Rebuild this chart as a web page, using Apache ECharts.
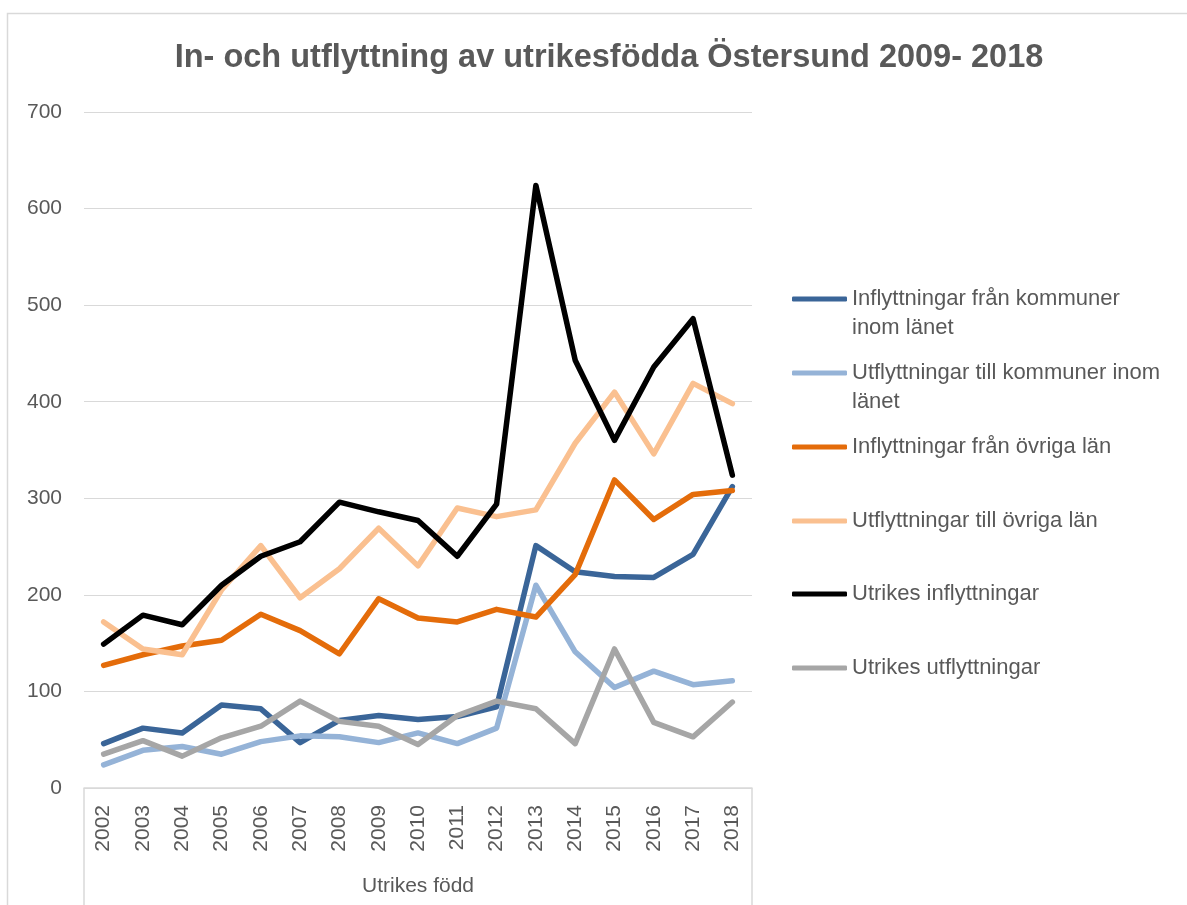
<!DOCTYPE html>
<html>
<head>
<meta charset="utf-8">
<script src="https://cdn.jsdelivr.net/npm/echarts@6/dist/echarts.min.js"></script>
<style>
html,body{margin:0;padding:0;background:#fff;}
#chart{width:1187px;height:905px;}
</style>
</head>
<body>
<div id="chart"></div>
<script>
const titleText = 'In- och utflyttning av utrikesfödda Östersund 2009- 2018';
const years = ['2002','2003','2004','2005','2006','2007','2008','2009','2010','2011','2012','2013','2014','2015','2016','2017','2018'];
const groupLabel = ['Utrikes född'];
const yTicks = { min: 0, max: 700, interval: 100 };

const seriesNames = [
  'Inflyttningar från kommuner inom länet',
  'Utflyttningar till kommuner inom länet',
  'Inflyttningar från övriga län',
  'Utflyttningar till övriga län',
  'Utrikes inflyttningar',
  'Utrikes utflyttningar'
];
const legendLabels = [
  ' \nInflyttningar från kommuner\ninom länet',
  ' \nUtflyttningar till kommuner inom\nlänet',
  'Inflyttningar från övriga län',
  'Utflyttningar till övriga län',
  'Utrikes inflyttningar',
  'Utrikes utflyttningar'
];
const inflyttInom = [46, 62, 57, 86, 82, 47, 70, 75, 71, 74, 84, 251, 224, 219, 218, 242, 312];
const utflyttInom = [24, 39, 43, 35, 48, 54, 53, 47, 57, 46, 62, 210, 141, 104, 121, 107, 111];
const inflyttOvriga = [127, 138, 147, 153, 180, 163, 139, 196, 176, 172, 185, 177, 221, 319, 278, 304, 308];
const utflyttOvriga = [172, 144, 138, 205, 251, 197, 227, 269, 230, 290, 281, 288, 357, 410, 346, 419, 398];
const utrikesIn = [149, 179, 169, 210, 240, 255, 296, 286, 277, 240, 294, 624, 443, 360, 436, 486, 324];
const utrikesUt = [35, 49, 33, 52, 64, 90, 69, 64, 45, 75, 90, 82, 46, 144, 68, 53, 89];

const seriesData = [inflyttInom, utflyttInom, inflyttOvriga, utflyttOvriga, utrikesIn, utrikesUt];
const colors = ['#3A6598', '#95B3D7', '#E46C0A', '#FAC090', '#000000', '#A6A6A6'];

const FONT = '"Liberation Sans", Arial, sans-serif';
const TXT = '#595959';

const legendMarkerY = [299, 373, 447, 521, 594, 668];
const legends = seriesNames.map((name, i) => {
  const lines = legendLabels[i].split('\n').length;
  return {
    data: [{ name: name, icon: 'roundRect', itemStyle: { color: colors[i] } }],
    left: 792,
    top: legendMarkerY[i] - lines * 29 / 2,
    itemWidth: 55,
    itemHeight: 5,
    itemGap: 0,
    padding: 0,
    selectedMode: false,
    formatter: () => legendLabels[i],
    textStyle: {
      fontFamily: FONT,
      fontSize: 22,
      color: TXT,
      lineHeight: 29
    }
  };
});

const chart = echarts.init(document.getElementById('chart'), null, { renderer: 'canvas' });
chart.setOption({
  animation: false,
  backgroundColor: '#ffffff',
  title: {
    text: titleText,
    left: 604,
    top: 37,
    textAlign: 'center',
    textStyle: { fontFamily: FONT, fontSize: 32.5, fontWeight: 'bold', color: TXT }
  },
  graphic: [{
    type: 'rect',
    shape: { x: 7.5, y: 13.5, width: 1400, height: 1200 },
    style: { fill: 'none', stroke: '#D9D9D9', lineWidth: 1.5 },
    silent: true
  }],
  legend: legends,
  grid: { left: 84, right: 435, top: 112, bottom: 117, containLabel: false },
  xAxis: [{
    type: 'category',
    data: years,
    boundaryGap: true,
    position: 'bottom',
    axisLine: { show: true, lineStyle: { color: '#D9D9D9', width: 1.5 } },
    axisTick: { show: false },
    axisLabel: { rotate: 90, margin: 17, fontFamily: FONT, fontSize: 21, color: TXT, interval: 0 },
    splitLine: { show: false }
  }, {
    type: 'category',
    data: groupLabel,
    boundaryGap: true,
    position: 'bottom',
    offset: 0,
    axisLine: { show: false },
    axisTick: { show: true, length: 120, interval: 0, lineStyle: { color: '#D9D9D9', width: 1.5 } },
    axisLabel: { margin: 88, fontFamily: FONT, fontSize: 21, color: TXT },
    splitLine: { show: false }
  }],
  yAxis: {
    type: 'value',
    min: yTicks.min,
    max: yTicks.max,
    interval: yTicks.interval,
    axisLine: { show: false },
    axisTick: { show: false },
    axisLabel: { margin: 22, fontFamily: FONT, fontSize: 21, color: TXT },
    splitLine: { show: true, lineStyle: { color: '#D9D9D9', width: 1.2 } }
  },
  series: seriesNames.map((name, i) => ({
    name: name,
    type: 'line',
    xAxisIndex: 0,
    data: seriesData[i],
    symbol: 'none',
    smooth: false,
    lineStyle: { color: colors[i], width: 5.5, cap: 'round', join: 'round' },
    itemStyle: { color: colors[i] },
    emphasis: { disabled: true }
  }))
});
</script>
</body>
</html>
